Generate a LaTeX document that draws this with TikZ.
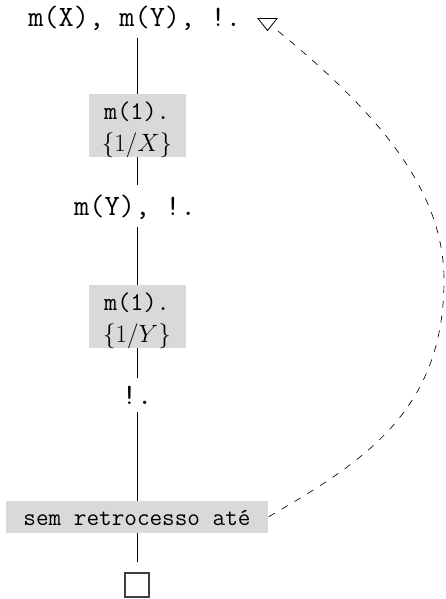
\RequirePackage{fix-cm}
\documentclass[tikz,border=0pt]{standalone}
\usepackage{fontspec}
\usetikzlibrary{calc}
\definecolor{boxgray}{HTML}{D9D9D9}
\tikzset{
  conn/.style={line width=0.8pt, black},
  lbl/.style={inner sep=0pt, font=\fontsize{29.5}{34}\selectfont\ttfamily, text height=18pt, text depth=5pt, anchor=base},
  graybox/.style={fill=boxgray, inner sep=0pt, minimum width=97pt, minimum height=63pt},
  boxtt/.style={inner sep=0pt, font=\fontsize{25.5}{30}\selectfont\ttfamily, anchor=base},
  boxmath/.style={inner sep=0pt, font=\fontsize{25}{29}\selectfont, anchor=base},
  longbox/.style={fill=boxgray, inner sep=0pt, minimum width=262pt, minimum height=32pt, font=\fontsize{24.5}{28}\selectfont\ttfamily, text height=18pt, text depth=2pt},
  endbox/.style={draw=black!75, line width=1.1pt, minimum size=24pt, inner sep=0pt},
  back/.style={dash pattern=on 7pt off 8pt, line width=0.65pt},
  tripath/.style={line width=0.8pt},
}
\begin{document}
\begin{tikzpicture}[x=1pt, y=-1pt]
\useasboundingbox (0,0) rectangle (446,599);
% labels
\node[lbl] (t1) at (134.6,27) {m(X), m(Y), !.};
\node[graybox] (b1) at (137,125.5) {};
\node[boxtt] (b1a) at (137,119) {m(1).};
\node[boxmath] (b1b) at (137,151.5) {$\{1/X\}$};
\node[lbl] (t2) at (135,215) {m(Y), !.};
\node[graybox] (b2) at (137,316.5) {};
\node[boxtt] (b2a) at (137,310) {m(1).};
\node[boxmath] (b2b) at (137,342.5) {$\{1/Y\}$};
\node[lbl] (t3) at (137,404) {!.};
\node[longbox] (b3) at (137,517) {sem retrocesso até};
\node[endbox] (sq) at (137,585) {};
% connectors
\draw[conn, shorten <=6pt] (t1.south -| b1.north) -- (b1.north);
\draw[conn, shorten >=12pt] (b1.south) -- (t2.north -| b1.south);
\draw[conn, shorten <=7pt] (t2.south -| b2.north) -- (b2.north);
\draw[conn, shorten >=8pt] (b2.south) -- (t3.north);
\draw[conn, shorten <=3pt] (t3.south) -- (b3.north);
\draw[conn, shorten >=10pt] (b3.south) -- (sq.north);
% triangle marker
\coordinate (tri) at (267.5,24.5);
\draw[tripath] ($(tri)+(-9.5,-6)$) -- ($(tri)+(9.5,-6)$) -- ($(tri)+(0,6)$) -- cycle;
% dashed return arc
\coordinate (arcA) at ($(tri)+(10.5,6.5)$);
\coordinate (arcM) at (444,280);
\draw[back] (arcA) .. controls (378,113) and (444,190) .. (arcM)
  .. controls (444,410) and (365,461) .. (b3.east);
\end{tikzpicture}
\end{document}
